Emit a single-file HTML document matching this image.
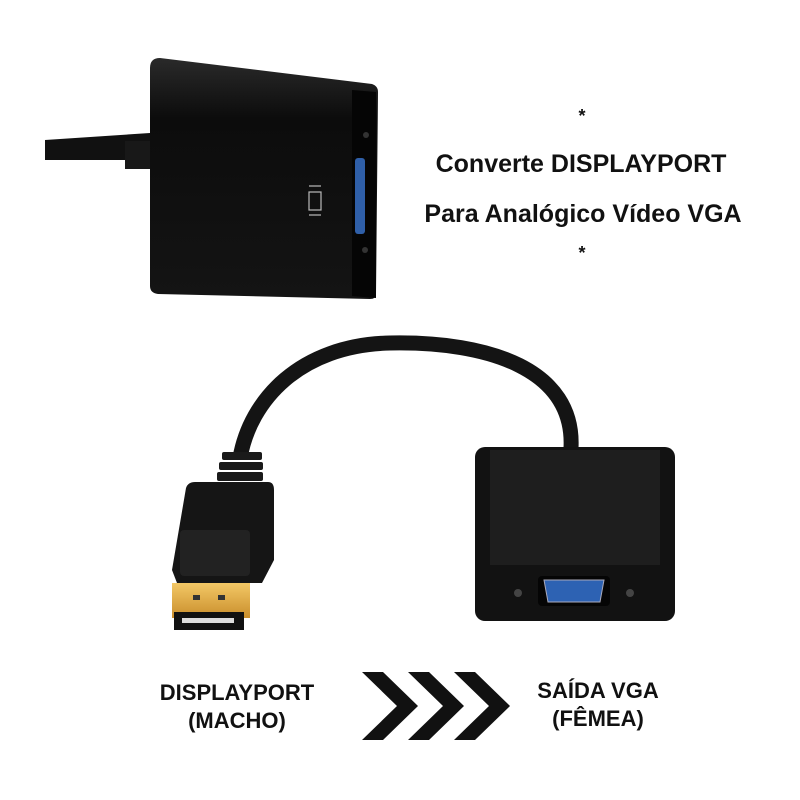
<!DOCTYPE html>
<html><head><meta charset="utf-8"><style>
html,body{margin:0;padding:0;background:#fff;}
svg{display:block}
text{font-family:"Liberation Sans",sans-serif;font-weight:bold;fill:#111}
</style></head><body>
<svg width="800" height="800" viewBox="0 0 800 800" xmlns="http://www.w3.org/2000/svg">
<defs>
<linearGradient id="bx" x1="0" y1="0" x2="0" y2="1"><stop offset="0" stop-color="#2a2a2a"/><stop offset="0.25" stop-color="#0c0c0c"/><stop offset="1" stop-color="#141414"/></linearGradient>
<linearGradient id="gold" x1="0" y1="0" x2="0" y2="1"><stop offset="0" stop-color="#f3c866"/><stop offset="1" stop-color="#c98e2c"/></linearGradient>
</defs>
<!-- top adapter -->
<path d="M45 140 L150 133 L150 160 L45 160 Z" fill="#111"/>
<rect x="125" y="141" width="30" height="28" fill="#181818"/>
<path d="M160 58 L372 84 Q378 86 378 92 L376 294 Q376 299 370 299 L158 294 Q150 293 150 286 L150 68 Q150 58 160 58 Z" fill="url(#bx)"/>
<path d="M352 90 L376 92 L376 298 L352 296 Z" fill="#050505"/>
<rect x="355" y="158" width="10" height="76" rx="3" fill="#2f5fa8"/>
<circle cx="366" cy="135" r="3" fill="#333"/><circle cx="365" cy="250" r="3" fill="#333"/>
<g stroke="#bbb" stroke-width="1.2" fill="none"><rect x="309" y="192" width="12" height="18"/><line x1="309" y1="186" x2="321" y2="186"/><line x1="309" y1="215" x2="321" y2="215"/></g>
<!-- top text -->
<text x="582" y="122" font-size="18" text-anchor="middle">*</text>
<text x="581" y="172" font-size="25" text-anchor="middle">Converte DISPLAYPORT</text>
<text x="583" y="222" font-size="25" text-anchor="middle">Para Analógico Vídeo VGA</text>
<text x="582" y="259" font-size="18" text-anchor="middle">*</text>
<!-- cable -->
<path d="M240 458 C250 400 300 345 390 343 C490 341 575 370 571 448" fill="none" stroke="#141414" stroke-width="15"/>
<!-- DP plug -->
<g fill="#1a1a1a"><rect x="222" y="452" width="40" height="8" rx="2"/><rect x="219" y="462" width="44" height="8" rx="2"/><rect x="217" y="472" width="46" height="9" rx="2"/></g>
<path d="M195 482 L268 482 Q274 482 274 490 L274 560 L262 583 L177 583 L172 570 L186 488 Q188 482 195 482 Z" fill="#151515"/>
<rect x="180" y="530" width="70" height="46" rx="4" fill="#222"/>
<rect x="172" y="583" width="78" height="35" fill="url(#gold)"/>
<rect x="193" y="595" width="7" height="5" fill="#333"/><rect x="218" y="595" width="7" height="5" fill="#333"/>
<rect x="174" y="612" width="70" height="18" fill="#111"/>
<rect x="182" y="618" width="52" height="5" fill="#ddd"/>
<!-- VGA box -->
<rect x="475" y="447" width="200" height="174" rx="10" fill="#121212"/>
<rect x="490" y="450" width="170" height="115" fill="#1e1e1e"/>
<rect x="538" y="576" width="72" height="30" rx="4" fill="#050505"/>
<path d="M544 580 L604 580 L600 602 L548 602 Z" fill="#2d62b3" stroke="#aab" stroke-width="1"/>
<circle cx="518" cy="593" r="4" fill="#444"/><circle cx="630" cy="593" r="4" fill="#444"/>
<!-- bottom labels -->
<text x="237" y="700" font-size="22" text-anchor="middle">DISPLAYPORT</text>
<text x="237" y="728" font-size="22" text-anchor="middle">(MACHO)</text>
<text x="598" y="698" font-size="22" text-anchor="middle">SAÍDA VGA</text>
<text x="598" y="726" font-size="22" text-anchor="middle">(FÊMEA)</text>
<g fill="#111">
<path d="M362 672 L383 672 L418 706 L383 740 L362 740 L397 706 Z"/>
<path d="M408 672 L429 672 L464 706 L429 740 L408 740 L443 706 Z"/>
<path d="M454 672 L475 672 L510 706 L475 740 L454 740 L489 706 Z"/>
</g>
</svg>
</body></html>
